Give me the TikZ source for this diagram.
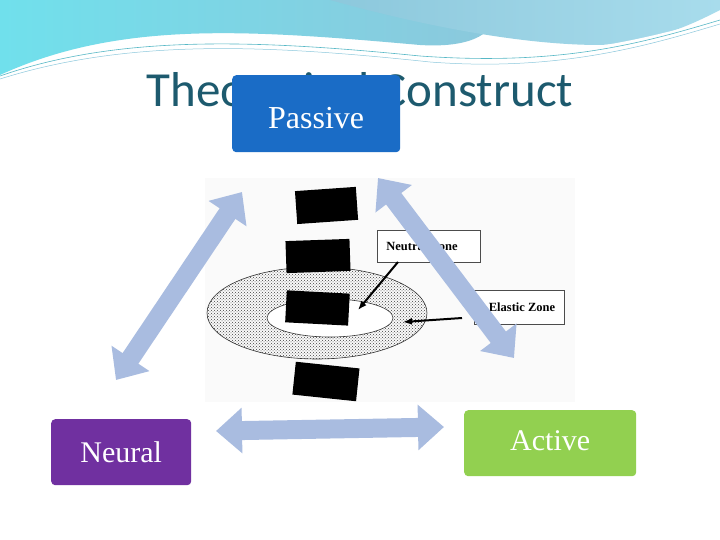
\documentclass[tikz,border=0pt]{standalone}
\usepackage{fontspec}
\setmainfont{Liberation Serif}
\newfontfamily\titlefont{Carlito}
\usetikzlibrary{arrows.meta,patterns}
\definecolor{ttl}{HTML}{1D5A6E}
\definecolor{pblue}{HTML}{1A6CC6}
\definecolor{npurp}{HTML}{7030A0}
\definecolor{agreen}{HTML}{92D050}
\definecolor{arr}{HTML}{A9BCE0}
\definecolor{wave1}{HTML}{8CC8DC}
\definecolor{wave2}{HTML}{70E0EC}
\definecolor{wave3}{HTML}{A8DCEC}
\tikzset{
 lbl/.style={rounded corners=4pt,text=white,font=\fontsize{30}{32}\selectfont,inner sep=0pt},
 bigarr/.style={arr,line width=19pt,{Triangle[width=44pt,length=26pt]}-{Triangle[width=44pt,length=26pt]}},
 blk/.style={fill=black},
 zone/.style={draw=black!70,fill=white,font=\bfseries\fontsize{12.5}{14}\selectfont,inner sep=0pt,line width=0.6pt},
 thin/.style={-{Latex[length=9pt,width=7pt]},line width=2pt,black}
}
\begin{document}
\begin{tikzpicture}[x=1pt,y=-1pt]
\useasboundingbox (0,0) rectangle (720,540);
\fill[white] (0,0) rectangle (720,540);
% header waves
\shade[left color=wave2,right color=wave1] (0,0) -- (0,75) .. controls (120,20) and (250,30) .. (420,45) .. controls (470,48) and (500,35) .. (500,0) -- cycle;
\shade[left color=wave1,right color=wave3] (330,0) .. controls (420,25) and (520,45) .. (600,45) .. controls (660,42) and (700,20) .. (720,10) -- (720,0) -- cycle;
\fill[white] (0,78) .. controls (120,30) and (260,38) .. (420,52) .. controls (560,62) and (640,40) .. (720,18) -- (720,28) .. controls (640,60) and (560,78) .. (420,66) .. controls (260,52) and (120,45) .. (0,80) -- cycle;
\draw[wave2!70!ttl,line width=0.6pt] (0,76) .. controls (120,34) and (260,40) .. (420,56) .. controls (560,66) and (640,44) .. (720,20);
\draw[wave1,line width=0.5pt] (0,79) .. controls (130,38) and (270,45) .. (430,62) .. controls (560,72) and (650,45) .. (720,24);
% title
\node[font=\titlefont\fontsize{49}{50}\selectfont,text=ttl,anchor=base] (title) at (360,107) {Theoretical Construct};
% central image
\fill[black!2] (205,178) rectangle (575,402);
\fill[pattern=crosshatch dots,pattern color=black!75] (317,313) ellipse [x radius=110,y radius=46];
\draw[black!80,line width=0.6pt] (317,313) ellipse [x radius=110,y radius=46];
\fill[white] (330,318) ellipse [x radius=63,y radius=19];
\draw[black!80,line width=0.6pt] (330,318) ellipse [x radius=63,y radius=19];
\fill[blk,rotate around={4:(326,205)}] (296,189) rectangle (357,222);
\fill[blk,rotate around={2:(318,256)}] (286,240) rectangle (350,272);
\fill[blk,rotate around={-3:(318,307)}] (286,292) rectangle (349,324);
\fill[blk,rotate around={-6:(326,381)}] (294,365) rectangle (358,398);
\node[zone,minimum width=103pt,minimum height=32pt] (nz) at (429,246) {\hspace*{-14pt}Neutral Zone};
\node[zone,minimum width=90pt,minimum height=34pt] (ez) at (519,307) {\hspace*{6pt}Elastic Zone};
\coordinate (nzA) at (398,262);
\coordinate (nzB) at (358,310);
\coordinate (ezA) at (462,318);
\coordinate (ezB) at (403,322);
\draw[thin] (nzA) -- (nzB);
\draw[thin] (ezA) -- (ezB);
% boxes
\node[lbl,fill=pblue,minimum width=168pt,minimum height=77pt,anchor=north west] (pas) at (232,75) {};
\node[text=white,font=\fontsize{32}{34}\selectfont] at (pas.center) [yshift=-4pt] {Passive};
\node[lbl,fill=npurp,minimum width=140pt,minimum height=66pt,anchor=north west] (neu) at (51,419) {Neural};
\node[lbl,fill=agreen,minimum width=172pt,minimum height=66pt,anchor=north west] (act) at (464,410) {\raisebox{5pt}{Active}};
% big arrows
\coordinate (a1) at (242,192);
\coordinate (a2) at (116,380);
\coordinate (b1) at (378,178);
\coordinate (b2) at (514,358);
\coordinate (c1) at (216,431);
\coordinate (c2) at (444,427);
\draw[bigarr] (a1) -- (a2);
\draw[bigarr] (b1) -- (b2);
\draw[bigarr] (c1) -- (c2);
\end{tikzpicture}
\end{document}
